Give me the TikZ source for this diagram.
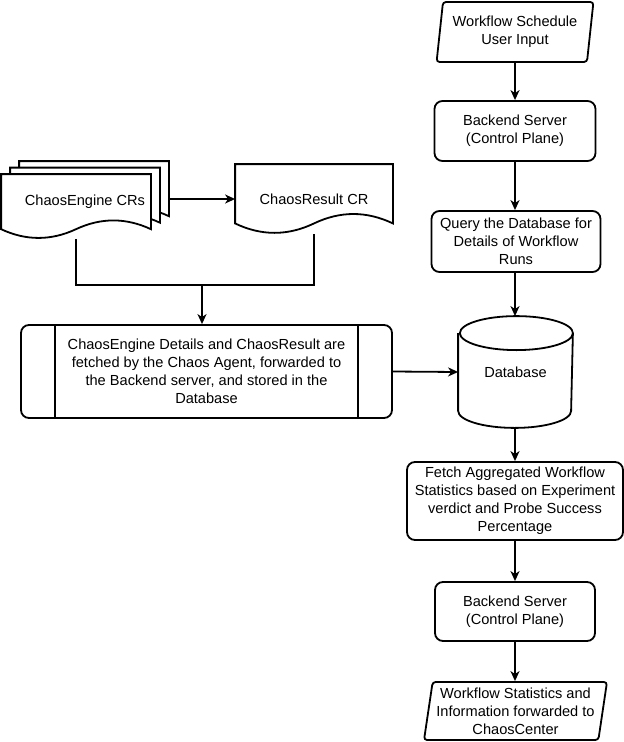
\documentclass[tikz,border=0pt]{standalone}
\usepackage{fontspec}
\setmainfont{Liberation Sans}
\usetikzlibrary{arrows.meta,shapes.geometric,calc,backgrounds}

\tikzset{
  base/.style={line width=1.8pt, font=\fontsize{14.6}{18}\selectfont, align=center, inner sep=0pt},
  box/.style={base, draw, rounded corners=8pt, fill=white},
  io/.style={base, draw, trapezium, trapezium left angle=80, trapezium right angle=100,
    trapezium stretches=true, rounded corners=3pt},
  docbox/.style={base},
  outline/.style={line width=1.8pt, fill=white},
  link/.style={line width=1.8pt},
  flow/.style={link, -{Stealth[length=10pt, width=9pt, inset=3pt]}},
}

% wavy bottom of a document sheet, drawn round a node
\newcommand{\docoutline}[1]{%
  \draw[outline] let \p1=(#1.south west), \p2=(#1.north east),
    \n1={(\x2-\x1)/6}, \n2={0.3*(\y2-\y1)}, \n3={(\x1+\x2)/2} in
    (\x1,\y2) -- (\x2,\y2) -- (\x2,\y1+0.5*\n2)
    .. controls (\x2-\n1,\y1+1.1*\n2) and (\n3+\n1,\y1+1.1*\n2) .. (\n3,\y1+0.5*\n2)
    .. controls (\n3-\n1,\y1-0.1*\n2) and (\x1+\n1,\y1-0.1*\n2) .. (\x1,\y1+0.5*\n2) -- cycle;}

\begin{document}
\begin{tikzpicture}[x=1pt, y=-1pt]
  \useasboundingbox (0,0) rectangle (624,742);

  % Workflow column
  \node[io, minimum width=157pt, minimum height=60pt] (input) at (515,32) {Workflow Schedule\\User Input};
  \node[box, minimum width=161pt, minimum height=60pt] (server) at (515,131) {Backend Server\\(Control Plane)};
  \node[box, minimum width=169pt, minimum height=61pt] (query) at (516,241.5) {Query the Database for\\Details of Workflow\\Runs};
  \node[docbox, minimum width=113pt, minimum height=110pt] (db) at (515.5,372) {};
  \node[box, minimum width=216pt, minimum height=78pt] (stats) at (515,501) {Fetch Aggregated Workflow\\Statistics based on Experiment\\verdict and Probe Success\\Percentage};
  \node[box, minimum width=160pt, minimum height=59pt] (server2) at (515,611.5) {Backend Server\\(Control Plane)};
  \node[io, minimum width=183pt, minimum height=58pt] (output) at (515.5,711) {Workflow Statistics and\\Information forwarded to\\ChaosCenter};

  % Database cylinder
  \draw[outline] ([yshift=-17pt]db.north west) -- ([yshift=17pt]db.south west)
    arc[start angle=180, end angle=360, x radius=56.5pt, y radius=17pt]
    -- ([yshift=-17pt]db.north east)
    arc[start angle=0, end angle=180, x radius=56.5pt, y radius=17pt]
    arc[start angle=180, end angle=360, x radius=56.5pt, y radius=17pt];
  \node[docbox] (dblabel) at (db) {Database};

  % Chaos resources
  \node[docbox, minimum width=148pt, minimum height=63pt] (engdoc3) at (94,193.5) {};
  \node[docbox, minimum width=148pt, minimum height=63pt] (engdoc2) at (85,200) {};
  \node[docbox, minimum width=148pt, minimum height=63pt] (engdoc1) at (76,206.5) {};
  \node[docbox] (engine) at (85,202) {ChaosEngine CRs};
  \node[docbox, minimum width=156pt, minimum height=68pt] (result) at (314,199) {ChaosResult CR};

  \begin{pgfonlayer}{background}
    \docoutline{engdoc3}
    \docoutline{engdoc2}
    \docoutline{engdoc1}
    \docoutline{result}
  \end{pgfonlayer}

  % Chaos Agent step
  \node[box, minimum width=371pt, minimum height=93pt] (fetched) at (206.5,371.5) {ChaosEngine Details and ChaosResult are\\fetched by the Chaos Agent, forwarded to\\the Backend server, and stored in the\\Database};
  \draw[link] ([xshift=35pt]fetched.north west) -- ([xshift=35pt]fetched.south west);
  \draw[link] ([xshift=-35pt]fetched.north east) -- ([xshift=-35pt]fetched.south east);

  % connectors
  \coordinate (join) at (202,285);
  \draw[flow] (engdoc3.east |- result.west) -- (result.west);
  \draw[link] (engdoc1.south) |- (join) -| (result.south);
  \draw[flow] (join) -- (join |- fetched.north);
  \draw[flow] (fetched.east) -- (db.west);

  \draw[flow] (input.south) -- (input.south |- server.north);
  \draw[flow] (server.south) -- (server.south |- query.north);
  \draw[flow] (server.south |- query.south) -- (server.south |- db.north);
  \draw[flow] (server.south |- db.south) -- (server.south |- stats.north);
  \draw[flow] (stats.south) -- (server2.north);
  \draw[flow] (server2.south) -- (server2.south |- output.north);
\end{tikzpicture}
\end{document}
